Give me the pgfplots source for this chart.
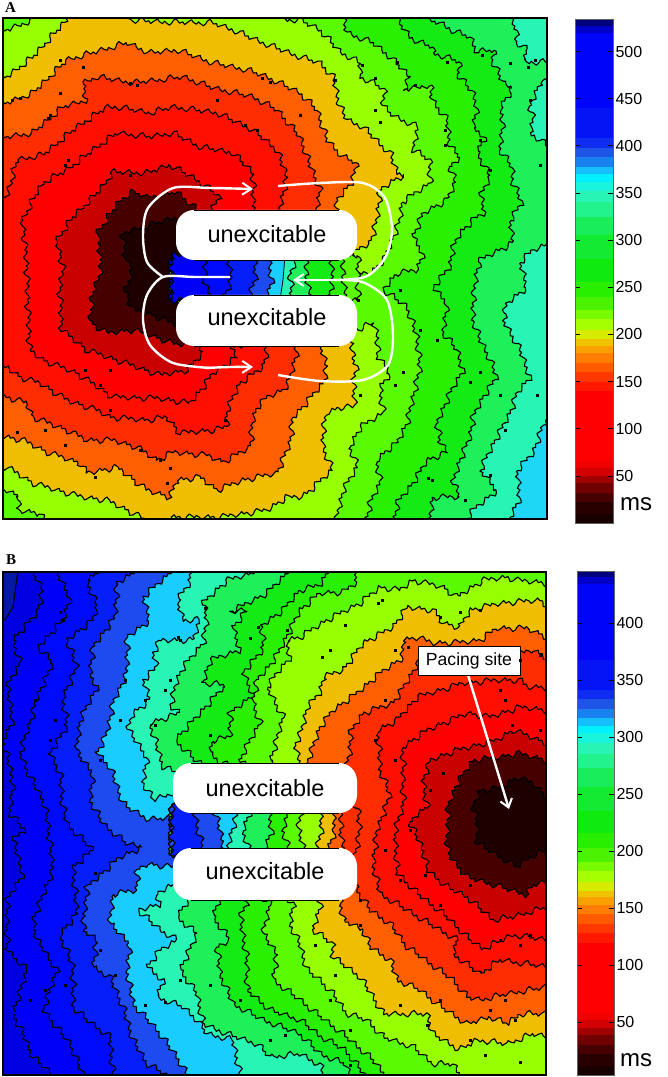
\documentclass[border=0pt]{standalone}
\usepackage{fontspec}
\setmainfont{Liberation Sans}
\newfontfamily\serifb{Liberation Serif}
\usepackage{pgfplots}
\pgfplotsset{compat=1.18}
\usetikzlibrary{decorations,arrows.meta}
\pgfdeclaredecoration{rough}{a}{
 \state{a}[width=2.6pt,next state=b]{\pgfpathlineto{\pgfqpoint{0pt}{1.2pt}}}
 \state{b}[width=1.8pt,next state=c]{\pgfpathlineto{\pgfqpoint{0pt}{2.8pt}}}
 \state{c}[width=3.2pt,next state=d]{\pgfpathlineto{\pgfqpoint{0pt}{0.4pt}}}
 \state{d}[width=2pt,next state=e]{\pgfpathlineto{\pgfqpoint{0pt}{-1.6pt}}}
 \state{e}[width=1.6pt,next state=f]{\pgfpathlineto{\pgfqpoint{0pt}{0.8pt}}}
 \state{f}[width=3.4pt,next state=g]{\pgfpathlineto{\pgfqpoint{0pt}{-0.6pt}}}
 \state{g}[width=2.2pt,next state=h]{\pgfpathlineto{\pgfqpoint{0pt}{-3pt}}}
 \state{h}[width=1.6pt,next state=i]{\pgfpathlineto{\pgfqpoint{0pt}{-1pt}}}
 \state{i}[width=2.8pt,next state=j]{\pgfpathlineto{\pgfqpoint{0pt}{1.8pt}}}
 \state{j}[width=2pt,next state=k]{\pgfpathlineto{\pgfqpoint{0pt}{3.6pt}}}
 \state{k}[width=1.6pt,next state=l]{\pgfpathlineto{\pgfqpoint{0pt}{1pt}}}
 \state{l}[width=3pt,next state=m]{\pgfpathlineto{\pgfqpoint{0pt}{-0.8pt}}}
 \state{m}[width=2pt,next state=n]{\pgfpathlineto{\pgfqpoint{0pt}{0.6pt}}}
 \state{n}[width=2.4pt,next state=o]{\pgfpathlineto{\pgfqpoint{0pt}{-2.2pt}}}
 \state{o}[width=1.8pt,next state=a]{\pgfpathlineto{\pgfqpoint{0pt}{-0.2pt}}}
 \state{final}{\pgfpathlineto{\pgfpointdecoratedpathlast}}
}
\definecolor{dka}{RGB}{30,0,0}
\definecolor{dkb}{RGB}{70,0,0}
\definecolor{dkc}{RGB}{200,0,0}
\definecolor{ra}{RGB}{255,0,0}
\definecolor{rb}{RGB}{255,15,0}
\definecolor{rc}{RGB}{255,45,0}
\definecolor{orr}{RGB}{255,95,0}
\definecolor{yee}{RGB}{240,190,0}
\definecolor{ygg}{RGB}{150,255,0}
\definecolor{ga}{RGB}{90,250,0}
\definecolor{gb}{RGB}{40,240,0}
\definecolor{gc}{RGB}{20,235,20}
\definecolor{gd}{RGB}{30,240,90}
\definecolor{tee}{RGB}{40,245,180}
\definecolor{cyy}{RGB}{25,205,255}
\definecolor{cyb}{RGB}{30,215,245}
\definecolor{bla}{RGB}{30,75,240}
\definecolor{blb}{RGB}{5,30,250}
\definecolor{blc}{RGB}{0,10,250}
\definecolor{bld}{RGB}{0,0,250}
\definecolor{ble}{RGB}{0,0,225}
\definecolor{blf}{RGB}{5,25,165}
\definecolor{fr}{RGB}{95,95,95}
\pgfplotsset{
  contour/.style={draw=black,line width=1.1pt,line join=round,decorate,decoration={rough}},
  speck/.style={only marks,mark=square*,mark size=0.85pt,black},
  loop/.style={white,line width=2.4pt,smooth},
  panel/.style={scale only axis,y dir=reverse,xtick=\empty,ytick=\empty,axis on top,
    axis line style={line width=2.4pt,black}},
  cbar/.style={scale only axis,xmin=0,xmax=1,xtick=\empty,axis on top,
    ytick pos=both,yticklabel pos=right,tick align=inside,major tick length=5pt,
    tick style={black,line width=0.8pt},axis line style={fr,line width=1pt},
    yticklabel style={font=\fontsize{16}{16}\selectfont,xshift=-1pt},
    /pgf/number format/assume math mode=true,/pgf/number format/1000 sep={}}
}
\newcommand\cb[5]{\addplot[draw=none,fill={rgb,255:red,#3;green,#4;blue,#5}] coordinates {(0,#1)(1,#1)(1,#2)(0,#2)} --cycle;}
\newcommand\bx[4]{\addplot[fill=white,draw=none,rounded corners=18pt] coordinates {(#1,#3)(#2,#3)(#2,#4)(#1,#4)} --cycle;
  \addplot[black,line width=0.9pt] coordinates {(#1+18,#3)(#2-18,#3)};
  \addplot[black,line width=0.9pt] coordinates {(#1+18,#4)(#2-18,#4)};}
\begin{document}
\begin{tikzpicture}[x=1pt,y=1pt]
\path[use as bounding box] (0,0) rectangle (668,1077);
% ---------------- Panel A
\begin{axis}[panel,at={(3pt,558pt)},anchor=south west,width=544pt,height=501pt,xmin=3,xmax=547,ymin=18,ymax=519]
\addplot[fill=cyb,draw=none] coordinates {(-20,0)(600,0)(600,540)(-20,540)} --cycle;
\addplot[contour,fill=tee] coordinates {(600,0)(600,420)(545,420)(533,453)(517,470)(520,497)(510,518)(510,540)(-20,540)(-20,0)} --cycle;
\addplot[contour,fill=gd] coordinates {(510,0)(510,20)(517,30)(516,42)(527,50)(524,62)(600,63)(600,80)(540,82)(530,107)(533,120)(530,133)(540,140)(552,150)(600,150)(600,245)(545,245)(533,250)(520,262)(527,287)(507,303)(503,320)(520,350)(530,377)(517,393)(510,413)(497,437)(480,470)(497,490)(473,510)(467,518)(467,540)(-20,540)(-20,0)} --cycle;
\addplot[contour,fill=gc] coordinates {(427,0)(427,20)(440,23)(455,32)(470,37)(477,52)(495,50)(492,60)(503,83)(513,88)(500,107)(503,117)(500,150)(512,167)(513,183)(522,203)(510,220)(513,243)(495,252)(480,260)(477,270)(473,300)(473,320)(480,340)(487,353)(497,377)(483,397)(473,417)(470,437)(460,460)(453,483)(460,497)(433,497)(430,518)(430,540)(-20,540)(-20,0)} --cycle;
\addplot[contour,fill=gb] coordinates {(397,0)(397,20)(410,37)(420,43)(433,47)(433,53)(460,62)(458,75)(473,93)(477,107)(473,127)(485,137)(477,152)(490,177)(480,197)(485,213)(475,218)(460,233)(452,250)(450,267)(433,287)(447,303)(443,333)(457,350)(463,370)(450,393)(437,423)(440,443)(448,452)(427,460)(413,483)(397,503)(395,518)(395,540)(-20,540)(-20,0)} --cycle;
\addplot[contour,fill=ga] coordinates {(343,0)(343,20)(347,33)(373,43)(390,57)(410,77)(403,90)(430,85)(432,100)(447,120)(450,147)(460,157)(450,167)(455,183)(447,200)(423,213)(413,237)(423,253)(417,270)(397,273)(383,290)(407,307)(417,337)(420,370)(417,380)(407,423)(397,443)(387,450)(377,460)(380,483)(370,503)(367,518)(367,540)(-20,540)(-20,0)} --cycle;
\addplot[contour,fill=ygg] coordinates {(-20,33)(7,30)(20,25)(33,20)(35,0)(285,0)(285,20)(300,20)(320,30)(340,52)(360,63)(360,77)(373,83)(385,90)(383,107)(395,117)(418,127)(413,150)(430,160)(430,183)(402,202)(400,220)(392,240)(385,258)(372,272)(350,275)(350,318)(357,330)(373,323)(378,337)(377,357)(387,367)(390,373)(380,387)(383,413)(360,427)(350,447)(357,467)(343,490)(337,518)(337,540)(43,540)(43,518)(40,513)(17,510)(20,497)(7,490)(-20,490)} --cycle;
\addplot[contour,fill=yee] coordinates {(-20,77)(7,77)(33,57)(67,20)(67,0)(130,0)(130,20)(160,22)(213,23)(233,30)(263,43)(300,57)(320,63)(333,77)(340,107)(347,120)(363,127)(383,147)(390,153)(397,173)(405,175)(397,178)(380,190)(377,220)(370,243)(357,250)(345,265)(345,330)(353,343)(352,357)(357,367)(353,383)(355,407)(340,407)(327,413)(323,430)(323,447)(332,470)(307,493)(300,497)(287,497)(267,510)(220,517)(170,517)(170,525)(143,525)(143,518)(133,513)(107,500)(83,497)(57,490)(33,483)(7,467)(-20,465)} --cycle;
\addplot[contour,fill=orr] coordinates {(-20,103)(7,103)(33,93)(67,60)(127,43)(150,53)(177,50)(213,63)(247,70)(267,77)(300,93)(317,110)(327,140)(343,157)(357,163)(353,180)(337,200)(337,215)(337,260)(320,300)(320,345)(327,367)(323,383)(300,410)(293,417)(290,443)(277,473)(243,480)(217,490)(200,477)(177,480)(170,497)(147,490)(117,467)(87,473)(80,463)(47,452)(23,440)(7,437)(-20,437)} --cycle;
\addplot[contour,fill=rc] coordinates {(-20,137)(7,137)(33,133)(63,107)(87,100)(83,83)(97,77)(133,83)(183,77)(213,88)(253,97)(277,110)(300,137)(307,157)(320,190)(317,208)(317,260)(300,300)(297,350)(290,380)(283,390)(267,397)(257,407)(253,420)(250,447)(223,462)(207,455)(173,452)(157,460)(137,447)(113,440)(87,440)(67,430)(33,417)(27,403)(7,397)(-20,397)} --cycle;
\addplot[contour,fill=rb] coordinates {(-20,197)(7,197)(17,160)(43,155)(77,127)(107,107)(117,107)(150,113)(173,107)(217,113)(253,130)(277,150)(287,177)(280,207)(280,260)(270,300)(267,350)(263,367)(240,383)(227,410)(227,427)(213,430)(180,433)(167,417)(147,420)(110,417)(97,410)(67,400)(40,383)(20,377)(7,367)(-20,367)} --cycle;
\addplot[contour,fill=ra] coordinates {(23,220)(33,200)(43,183)(67,170)(93,150)(117,133)(150,137)(173,133)(200,147)(233,153)(253,173)(253,200)(255,210)(255,340)(230,348)(237,357)(213,373)(203,387)(190,403)(157,398)(113,397)(77,373)(43,360)(30,350)(28,303)(27,267)} --cycle;
\addplot[contour,fill=dkc] coordinates {(57,240)(73,217)(100,190)(113,172)(147,173)(170,165)(197,180)(220,197)(213,208)(213,300)(197,346)(203,353)(187,370)(160,375)(117,360)(87,350)(62,330)(60,290)(63,267)} --cycle;
\addplot[contour,fill=dkb] coordinates {(97,233)(110,215)(120,200)(133,192)(147,197)(177,192)(197,210)(197,340)(177,345)(150,335)(133,330)(107,333)(90,322)(93,293)(102,267)} --cycle;
\addplot[contour,fill=dka] coordinates {(125,257)(123,233)(150,225)(177,217)(190,225)(190,320)(177,325)(147,313)(133,310)(125,290)(133,270)} --cycle;
% corridor of A
\addplot[contour,fill=ga] coordinates {(172,255)(358,255)(358,300)(172,300)} --cycle;
\addplot[contour,fill=gb] coordinates {(172,255)(345,255)(342,275)(347,300)(172,300)} --cycle;
\addplot[contour,fill=gc] coordinates {(172,255)(330,255)(333,278)(328,300)(172,300)} --cycle;
\addplot[contour,fill=gd] coordinates {(172,255)(310,255)(305,275)(312,300)(172,300)} --cycle;
\addplot[contour,fill=tee] coordinates {(172,255)(298,255)(290,275)(292,300)(172,300)} --cycle;
\addplot[draw=black,line width=0.8pt,fill=cyy] coordinates {(172,255)(285,255)(283,280)(280,300)(172,300)} --cycle;
\addplot[contour,fill=bla] coordinates {(172,255)(268,255)(272,280)(266,300)(172,300)} --cycle;
\addplot[contour,fill=blb] coordinates {(172,255)(253,255)(256,278)(248,300)(172,300)} --cycle;
\addplot[contour,fill=blc] coordinates {(172,255)(227,255)(232,280)(222,300)(172,300)} --cycle;
\addplot[contour,fill=bld] coordinates {(172,255)(208,255)(203,280)(213,300)(172,300)} --cycle;
\addplot[speck] coordinates {(60,93)(83,67)(130,83)(137,85)(262,78)(270,82)(217,100)(245,125)(257,130)(50,115)(48,118)(65,165)(68,160)(130,175)(60,60)(12,100)(20,98)(300,115)(362,65)(335,80)(375,78)(397,62)(415,85)(447,62)(482,55)(510,63)(535,60)(530,100)(528,67)(375,110)(380,122)(445,145)(445,130)(490,170)(480,140)(540,165)(400,290)(358,300)(420,330)(437,340)(470,382)(500,395)(480,372)(505,430)(537,395)(490,475)(465,500)(428,478)(432,480)(395,385)(403,372)(360,395)(85,370)(100,385)(140,450)(110,410)(160,460)(170,468)(225,420)(45,430)(65,445)(17,432)(140,520)(95,477)(167,483)(110,370)}; 
\bx{176}{357}{210}{260}
\bx{176}{357}{295}{346}
\node[font=\fontsize{23.5}{24}\selectfont] at (axis cs:267,234) {unexcitable};
\node[font=\fontsize{23.5}{24}\selectfont] at (axis cs:267,317) {unexcitable};
\addplot[loop,-{Straight Barb[length=9pt,width=12pt,line width=2pt]}] coordinates {(163,277)(147,262)(143,235)(148,208)(173,188)(210,188)(253,189)};
\addplot[loop] coordinates {(230,277)(195,277)(163,277)(147,295)(143,320)(150,345)(173,363)(210,368)};
\addplot[loop,-{Straight Barb[length=9pt,width=12pt,line width=2pt]}] coordinates {(205,368)(230,367)(253,367)};
\addplot[loop] coordinates {(278,186)(320,183)(363,183)(385,198)(392,230)(385,258)(365,277)(330,280)};
\addplot[loop,-{Straight Barb[length=9pt,width=12pt,line width=2pt]}] coordinates {(335,280)(315,280)(293,280)};
\addplot[loop] coordinates {(278,375)(320,381)(363,380)(388,365)(393,335)(387,300)(365,283)(345,280)};
\end{axis}
% ---------------- Panel B
\begin{axis}[panel,at={(3pt,2pt)},anchor=south west,width=543pt,height=503pt,xmin=3,xmax=546,ymin=572,ymax=1075]
\addplot[fill=ble,draw=none] coordinates {(-20,550)(600,550)(600,1095)(-20,1095)} --cycle;
\addplot[draw=black,line width=1pt,fill=blf] coordinates {(-10,560)(20,560)(17,577)(13,607)(5,620)(-10,625)} --cycle;
\addplot[contour,fill=bld] coordinates {(33,550)(33,573)(43,590)(37,613)(13,640)(20,663)(7,687)(13,720)(3,740)(13,780)(10,814)(25,830)(13,840)(23,874)(7,900)(7,950)(27,970)(13,1014)(23,1034)(33,1057)(53,1075)(53,1095)(600,1095)(600,550)} --cycle;
\addplot[contour,fill=blc] coordinates {(57,550)(57,573)(70,597)(63,620)(38,647)(53,663)(37,697)(33,713)(20,753)(30,777)(43,800)(47,817)(50,844)(53,870)(33,920)(37,940)(57,970)(43,1010)(70,1044)(83,1075)(83,1095)(600,1095)(600,550)} --cycle;
\addplot[contour,fill=blb] coordinates {(97,550)(97,573)(87,580)(97,607)(93,620)(67,640)(77,667)(63,697)(67,727)(50,753)(60,773)(63,807)(67,824)(93,850)(73,867)(77,914)(60,934)(73,967)(73,1007)(87,1020)(110,1037)(113,1075)(113,1095)(600,1095)(600,550)} --cycle;
\addplot[contour,fill=bla] coordinates {(133,550)(133,573)(117,583)(115,617)(93,647)(90,673)(97,687)(80,720)(77,753)(93,773)(90,800)(103,824)(127,844)(143,847)(120,857)(87,887)(83,930)(97,940)(93,967)(110,977)(123,1007)(133,1040)(147,1064)(167,1075)(167,1095)(600,1095)(600,550)} --cycle;
\addplot[contour,fill=cyy] coordinates {(170,550)(170,573)(143,597)(150,620)(127,637)(127,673)(113,703)(107,733)(97,753)(110,767)(123,803)(127,807)(150,820)(173,817)(200,817)(200,867)(173,867)(147,864)(137,870)(137,890)(113,894)(110,924)(130,944)(127,970)(133,1004)(157,1030)(177,1057)(187,1075)(187,1095)(600,1095)(600,550)} --cycle;
\addplot[contour,fill=tee] coordinates {(190,550)(190,583)(177,600)(183,620)(200,620)(193,640)(160,640)(153,653)(157,667)(143,680)(150,700)(133,713)(128,730)(147,757)(143,783)(153,800)(173,793)(200,793)(200,885)(173,885)(167,887)(157,894)(160,904)(138,910)(160,930)(177,940)(160,950)(147,967)(163,980)(157,997)(183,1007)(197,1020)(207,1034)(233,1040)(240,1075)(240,1095)(600,1095)(600,550)} --cycle;
\addplot[contour,fill=gd] coordinates {(253,550)(253,573)(227,580)(203,603)(207,620)(203,643)(183,667)(177,680)(170,707)(180,713)(150,723)(157,747)(163,767)(175,772)(200,772)(200,890)(185,904)(177,917)(197,934)(180,970)(197,994)(203,1024)(227,1034)(257,1044)(270,1057)(300,1054)(320,1065)(323,1075)(323,1095)(600,1095)(600,550)} --cycle;
\addplot[contour,fill=gc] coordinates {(287,550)(287,573)(267,593)(230,612)(247,610)(233,627)(240,650)(210,660)(203,683)(225,685)(200,713)(175,740)(197,762)(220,770)(220,895)(217,904)(213,917)(230,940)(217,947)(220,974)(233,1004)(263,1020)(300,1034)(320,1054)(345,1064)(350,1075)(350,1095)(600,1095)(600,550)} --cycle;
\addplot[contour,fill=gb] coordinates {(327,550)(327,573)(320,585)(300,590)(283,610)(262,625)(263,650)(243,672)(253,695)(230,713)(230,737)(213,740)(210,753)(220,762)(240,770)(240,895)(247,904)(240,917)(247,960)(247,990)(270,1010)(300,1020)(320,1036)(345,1050)(365,1075)(365,1095)(600,1095)(600,550)} --cycle;
\addplot[contour,fill=ga] coordinates {(355,550)(355,573)(357,582)(343,592)(320,593)(300,610)(290,630)(280,650)(270,665)(257,680)(253,703)(260,723)(243,753)(240,762)(260,770)(260,895)(270,904)(263,934)(277,954)(273,980)(300,1000)(317,1014)(343,1034)(373,1060)(385,1075)(385,1095)(600,1095)(600,550)} --cycle;
\addplot[contour,fill=ygg] coordinates {(600,583)(547,583)(517,580)(507,577)(483,580)(457,597)(443,587)(413,580)(400,590)(380,587)(360,603)(327,620)(300,637)(287,640)(290,657)(277,673)(267,687)(283,717)(273,753)(270,762)(285,770)(285,895)(293,904)(290,924)(300,945)(307,970)(320,980)(333,994)(347,1014)(367,1020)(383,1037)(413,1047)(433,1064)(453,1064)(460,1075)(460,1095)(600,1095)} --cycle;
\addplot[contour,fill=yee] coordinates {(600,605)(547,605)(540,600)(500,603)(470,610)(460,627)(443,623)(433,610)(407,607)(393,627)(363,643)(343,670)(323,677)(320,693)(307,707)(302,730)(295,745)(300,763)(310,800)(320,907)(313,930)(333,944)(333,957)(360,977)(373,997)(383,1014)(427,1014)(433,1034)(460,1050)(477,1040)(507,1044)(533,1034)(547,1037)(600,1037)} --cycle;
\addplot[contour,fill=orr] coordinates {(600,637)(547,637)(527,628)(497,628)(480,640)(463,642)(433,643)(417,637)(403,640)(403,657)(380,673)(357,693)(333,710)(320,727)(307,763)(335,830)(340,897)(343,920)(363,930)(370,947)(390,960)(397,980)(420,990)(437,1004)(467,1024)(490,1017)(507,1024)(520,1014)(547,1014)(600,1014)} --cycle;
\addplot[contour,fill=rc] coordinates {(600,657)(547,657)(533,650)(520,653)(505,652)(417,663)(410,677)(393,703)(363,713)(350,733)(350,753)(345,770)(345,850)(357,890)(370,910)(390,924)(407,947)(417,954)(453,980)(467,997)(480,1000)(507,994)(547,987)(600,987)} --cycle;
\addplot[contour,fill=rb] coordinates {(600,687)(547,687)(527,687)(520,680)(497,680)(463,683)(417,697)(397,720)(378,730)(380,770)(390,795)(377,830)(373,864)(380,894)(397,904)(423,920)(457,940)(453,954)(480,974)(500,960)(547,967)(600,967)} --cycle;
\addplot[contour,fill=ra] coordinates {(600,710)(547,710)(520,707)(490,717)(467,713)(427,730)(403,747)(403,807)(395,830)(397,873)(417,893)(447,917)(470,940)(483,949)(513,935)(547,940)(600,940)} --cycle;
\addplot[contour,fill=dkc] coordinates {(600,743)(547,743)(513,730)(497,740)(457,750)(430,760)(423,780)(427,807)(417,814)(410,823)(423,850)(427,870)(447,887)(467,897)(493,920)(513,917)(547,907)(600,907)} --cycle;
\addplot[contour,fill=dkb] coordinates {(600,760)(547,760)(517,753)(500,757)(473,760)(457,783)(448,807)(447,847)(450,857)(467,877)(500,887)(527,895)(533,885)(547,882)(600,882)} --cycle;
\addplot[contour,fill=dka] coordinates {(600,797)(547,797)(533,783)(517,777)(500,788)(480,790)(473,807)(477,823)(477,843)(500,857)(517,867)(530,857)(547,850)(600,850)} --cycle;
% corridor of B
\addplot[contour,fill=rc] coordinates {(172,806)(357,806)(360,830)(355,855)(172,855)} --cycle;
\addplot[contour,fill=orr] coordinates {(172,806)(343,806)(340,830)(345,855)(172,855)} --cycle;
\addplot[contour,fill=yee] coordinates {(172,806)(332,806)(335,830)(326,855)(172,855)} --cycle;
\addplot[contour,fill=ygg] coordinates {(172,806)(318,806)(322,830)(315,855)(172,855)} --cycle;
\addplot[contour,fill=ga] coordinates {(172,806)(303,806)(298,830)(306,855)(172,855)} --cycle;
\addplot[contour,fill=gb] coordinates {(172,806)(290,806)(283,830)(290,855)(172,855)} --cycle;
\addplot[contour,fill=gd] coordinates {(172,806)(268,806)(272,830)(262,855)(172,855)} --cycle;
\addplot[contour,fill=tee] coordinates {(172,806)(252,806)(243,830)(250,855)(172,855)} --cycle;
\addplot[contour,fill=cyy] coordinates {(172,806)(240,806)(232,830)(226,855)(172,855)} --cycle;
\addplot[contour,fill=bla] coordinates {(172,806)(213,806)(220,830)(226,855)(172,855)} --cycle;
\addplot[contour,fill=blb] coordinates {(172,806)(193,806)(198,830)(205,855)(172,855)} --cycle;
\addplot[speck] coordinates {(63,620)(60,612)(178,637)(180,640)(205,608)(258,627)(250,638)(287,630)(322,657)(330,650)(345,625)(382,600)(378,603)(440,617)(460,612)(480,610)(395,650)(408,647)(520,660)(540,655)(385,700)(375,740)(395,760)(430,790)(410,830)(443,773)(512,725)(540,730)(505,700)(500,690)(170,680)(165,690)(145,700)(210,735)(155,725)(125,680)(50,740)(55,720)(100,760)(35,700)(120,720)(95,873)(100,950)(45,990)(65,985)(30,1000)(115,975)(145,1005)(180,980)(165,1002)(210,985)(240,1000)(270,1040)(285,1035)(330,1000)(350,1030)(400,1005)(440,1000)(505,1000)(515,1020)(470,1040)(490,1010)(360,900)(360,925)(400,880)(385,850)(425,875)(470,885)(440,905)(500,940)(520,945)(530,935)(427,1025)(350,1065)(520,1062)(485,1055)(315,945)(335,975)};
\bx{173}{357}{763}{813}
\bx{173}{357}{848}{900}
\node[font=\fontsize{23.5}{24}\selectfont] at (axis cs:265,788) {unexcitable};
\node[font=\fontsize{23.5}{24}\selectfont] at (axis cs:265,871) {unexcitable};
\addplot[white,line width=2.4pt,-{Straight Barb[length=8pt,width=12pt,line width=2pt]}] coordinates {(468,675)(509,809)};
\addplot[fill=white,draw=black,line width=0.9pt] coordinates {(418,646)(520,646)(520,675)(418,675)} --cycle;
\node[font=\fontsize{17.6}{18}\selectfont] at (axis cs:469,661) {Pacing site};
\end{axis}
% ---------------- colour bar A
\begin{axis}[cbar,at={(575pt,553pt)},anchor=south west,width=38pt,height=504pt,ymin=-1,ymax=533.5,ytick={50,100,150,200,250,300,350,400,450,500}]
\cb{-1}{10}{22}{0}{0}\cb{10}{22}{40}{0}{0}\cb{22}{32}{70}{0}{0}\cb{32}{42}{110}{0}{0}\cb{42}{50}{160}{0}{0}\cb{50}{58}{210}{0}{0}\cb{58}{66}{240}{0}{0}\cb{66}{140}{255}{0}{0}\cb{140}{150}{255}{25}{0}\cb{150}{160}{255}{55}{0}\cb{160}{170}{255}{90}{0}\cb{170}{180}{255}{125}{0}\cb{180}{188}{248}{160}{0}\cb{188}{195}{240}{195}{0}\cb{195}{205}{215}{235}{0}\cb{205}{216}{165}{255}{0}\cb{216}{226}{120}{250}{0}\cb{226}{240}{75}{243}{0}\cb{240}{256}{40}{238}{0}\cb{256}{280}{15}{235}{15}\cb{280}{305}{18}{235}{50}\cb{305}{325}{25}{238}{90}\cb{325}{340}{35}{243}{140}\cb{340}{352}{40}{245}{180}\cb{352}{362}{25}{245}{220}\cb{362}{370}{0}{240}{255}\cb{370}{378}{20}{190}{255}\cb{378}{388}{25}{130}{240}\cb{388}{398}{30}{85}{230}\cb{398}{408}{15}{45}{240}\cb{408}{440}{5}{20}{245}\cb{440}{520}{0}{5}{250}\cb{520}{527}{0}{0}{200}\cb{527}{533.5}{0}{0}{125}
\end{axis}
% ---------------- colour bar B
\begin{axis}[cbar,at={(577pt,2pt)},anchor=south west,width=37pt,height=503pt,ymin=3.5,ymax=444.7,ytick={50,100,150,200,250,300,350,400}]
\cb{3.5}{11.8}{22}{0}{0}\cb{11.8}{21.7}{40}{0}{0}\cb{21.7}{30}{70}{0}{0}\cb{30}{38.3}{110}{0}{0}\cb{38.3}{44.9}{160}{0}{0}\cb{44.9}{51.5}{210}{0}{0}\cb{51.5}{58.1}{240}{0}{0}\cb{58.1}{119.4}{255}{0}{0}\cb{119.4}{127.7}{255}{25}{0}\cb{127.7}{136}{255}{55}{0}\cb{136}{144.3}{255}{90}{0}\cb{144.3}{152.5}{255}{125}{0}\cb{152.5}{159.2}{248}{160}{0}\cb{159.2}{165}{240}{195}{0}\cb{165}{173.2}{215}{235}{0}\cb{173.2}{182.3}{165}{255}{0}\cb{182.3}{190.6}{120}{250}{0}\cb{190.6}{202.2}{75}{243}{0}\cb{202.2}{215.5}{40}{238}{0}\cb{215.5}{235.3}{15}{235}{15}\cb{235.3}{256}{18}{235}{50}\cb{256}{272.6}{25}{238}{90}\cb{272.6}{285}{35}{243}{140}\cb{285}{295}{40}{245}{180}\cb{295}{303.2}{25}{245}{220}\cb{303.2}{309.9}{0}{240}{255}\cb{309.9}{316.5}{20}{190}{255}\cb{316.5}{324.8}{25}{130}{240}\cb{324.8}{333}{30}{85}{230}\cb{333}{341.3}{15}{45}{240}\cb{341.3}{367.8}{5}{20}{245}\cb{367.8}{434}{0}{5}{250}\cb{434}{439.9}{0}{0}{200}\cb{439.9}{444.7}{0}{0}{125}
\end{axis}
\node[anchor=west,inner sep=0pt,font=\fontsize{24}{24}\selectfont] at (620,573) {ms};
\node[anchor=west,inner sep=0pt,font=\fontsize{24}{24}\selectfont] at (620,17) {ms};
\node[anchor=base west,inner sep=0pt,font=\serifb\bfseries\fontsize{15}{15}\selectfont] at (5,1064) {A};
\node[anchor=base west,inner sep=0pt,font=\serifb\bfseries\fontsize{15}{15}\selectfont] at (6,512) {B};
\end{tikzpicture}
\end{document}
